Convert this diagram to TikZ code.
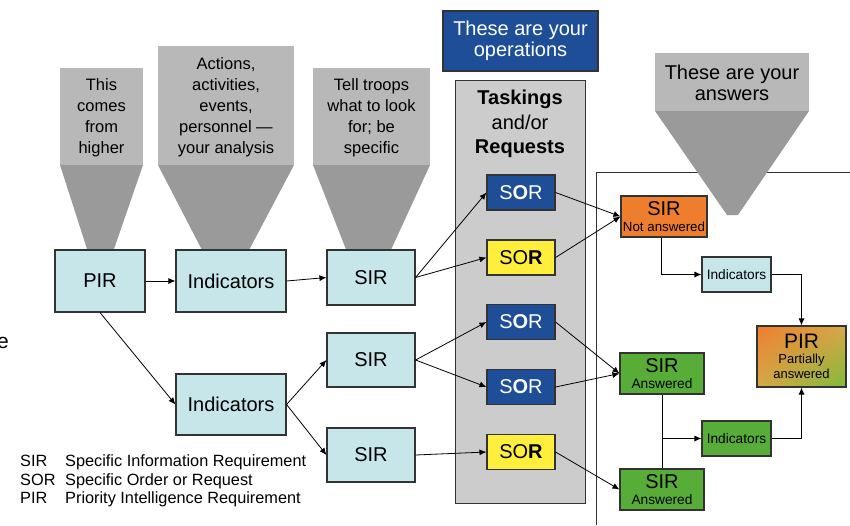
\documentclass[tikz,border=0pt]{standalone}
\usepackage{fontspec}
\setmainfont{Liberation Sans}
\usetikzlibrary{arrows.meta,calc,shadings}
\definecolor{cyanbox}{HTML}{C6E6EA}
\definecolor{bluebox}{HTML}{1F4E99}
\definecolor{yellowbox}{HTML}{FFEF3C}
\definecolor{orangebox}{HTML}{EE7E2E}
\definecolor{greenbox}{HTML}{57AD38}
\definecolor{panelgray}{HTML}{CCCCCC}
\definecolor{funneltop}{HTML}{B8B8B8}
\definecolor{funnelbot}{HTML}{9A9A9A}
\definecolor{boxline}{HTML}{333333}
\definecolor{mixc}{HTML}{D8A94A}
\definecolor{pagreen}{HTML}{7DBB3A}
\begin{document}
\begin{tikzpicture}[x=1pt,y=-1pt,
  box/.style={draw=boxline, line width=1.1pt, inner sep=0pt, align=center},
  cyanb/.style={box, fill=cyanbox, font=\fontsize{20}{24}\selectfont},
  sorblue/.style={box, fill=bluebox, text=white, minimum width=68pt, minimum height=35pt, font=\fontsize{20}{22}\selectfont},
  soryellow/.style={box, fill=yellowbox, minimum width=68pt, minimum height=35pt, font=\fontsize{20}{22}\selectfont},
  funtext/.style={align=center, inner sep=0pt, font=\fontsize{16.5}{21}\selectfont},
  conn/.style={line width=0.8pt, draw=black},
  arr/.style={conn, -{Latex[length=7pt,width=6pt]}},
  legend/.style={anchor=base west, inner sep=0pt, font=\fontsize{16.3}{18}\selectfont},
  ]
\useasboundingbox (0,0) rectangle (850,525);

% right frame
\draw[line width=0.9pt, draw=boxline] (596,525) -- (596,172) -- (850,172);

% funnels
\fill[funneltop] (60,68) rectangle (143,165);
\fill[funnelbot] (60,165) -- (143,165) -- (113,252) -- (88,252) -- cycle;
\node[funtext] (f1) at (101.5,118) {This\\comes\\from\\higher};
\fill[funneltop] (158,46) rectangle (294,165);
\fill[funnelbot] (158,165) -- (294,165) -- (248,252) -- (203,252) -- cycle;
\node[funtext] (f2) at (226,107.5) {Actions,\\activities,\\events,\\personnel —\\your analysis};
\fill[funneltop] (313,68) rectangle (430,165);
\fill[funnelbot] (313,165) -- (430,165) -- (390,252) -- (347,252) -- cycle;
\node[funtext] (f3) at (371.5,118) {Tell troops\\what to look\\for; be\\specific};
\fill[funneltop] (655,53) rectangle (809,111);
\fill[funnelbot] (655,111) -- (809,111) -- (738,215) -- (727,215) -- cycle;
\node[funtext, font=\fontsize{20}{21}\selectfont] (f4) at (732,83) {These are your\\answers};

% operations header
\node[box, fill=bluebox, text=white, minimum width=155pt, minimum height=60pt, font=\fontsize{20}{21}\selectfont] (ops) at (520.5,41) {These are your\\operations};

% panel
\node[draw=boxline, line width=0.9pt, fill=panelgray, minimum width=130pt, minimum height=423pt, inner sep=0pt] (panel) at (520,291.5) {};
\node[align=center, inner sep=0pt, font=\fontsize{20}{24.5}\selectfont] (task) at (520,124) {\textbf{Taskings}\\and/or\\\textbf{Requests}};

% left boxes
\node[cyanb, minimum width=90pt, minimum height=62pt] (pir) at (100,281) {PIR};
\node[cyanb, minimum width=110pt, minimum height=62pt] (ind1) at (231,281) {Indicators};
\node[cyanb, minimum width=88pt, minimum height=55pt] (sir1) at (371,277.5) {SIR};
\node[cyanb, minimum width=88pt, minimum height=54pt] (sir2) at (371,360) {SIR};
\node[cyanb, minimum width=110pt, minimum height=61pt] (ind2) at (231,404.5) {Indicators};
\node[cyanb, minimum width=88pt, minimum height=54pt] (sir3) at (371,455) {SIR};

% SOR boxes
\node[sorblue] (sorb1) at (521,192.5) {S\textbf{O}R};
\node[soryellow] (sory1) at (521,257.5) {SO\textbf{R}};
\node[sorblue] (sorb2) at (521,322) {S\textbf{O}R};
\node[sorblue] (sorb3) at (521,387) {S\textbf{O}R};
\node[soryellow] (sory2) at (521,452) {SO\textbf{R}};

% right boxes
\node[box, fill=orangebox, minimum width=86pt, minimum height=41pt, font=\fontsize{20}{15.5}\selectfont] (sirna) at (664,216.5)
  {SIR\\{\fontsize{13.3}{14}\selectfont Not answered}};
\node[box, fill=cyanbox, minimum width=69pt, minimum height=35pt, font=\fontsize{13.7}{15}\selectfont] (inds) at (736.5,274.5) {Indicators};
\node[box, upper left=orangebox, lower right=pagreen, upper right=mixc, lower left=mixc, minimum width=89pt, minimum height=61pt, font=\fontsize{21}{15}\selectfont] (pirpa) at (801.5,356.5)
  {PIR\\{\fontsize{13}{14}\selectfont Partially}\\{\fontsize{13}{14}\selectfont answered}};
\node[box, fill=greenbox, minimum width=84pt, minimum height=41pt, font=\fontsize{20}{16.5}\selectfont] (sira1) at (662,373.5)
  {SIR\\{\fontsize{13.7}{14}\selectfont Answered}};
\node[box, fill=greenbox, minimum width=69pt, minimum height=35pt, font=\fontsize{13.7}{15}\selectfont] (indg) at (736.5,438.5) {Indicators};
\node[box, fill=greenbox, minimum width=84pt, minimum height=41pt, font=\fontsize{20}{16.5}\selectfont] (sira2) at (662,489.5)
  {SIR\\{\fontsize{13.7}{14}\selectfont Answered}};

% connectors left
\draw[arr] (pir.east) -- (ind1.west);
\draw[arr] (ind1.east) -- (sir1.west);
\draw[arr] (pir.south) -- (ind2.west);
\draw[arr] (ind2.east) -- (sir2.west);
\draw[arr] (ind2.east) -- (sir3.west);
\draw[arr] (sir1.east) -- (sorb1.west);
\draw[arr] (sir1.east) -- (sory1.west);
\draw[arr] (sir2.east) -- (sorb2.west);
\draw[arr] (sir2.east) -- (sorb3.west);
\draw[arr] (sir3.east) -- (sory2.west);
% connectors right
\draw[arr] (sorb1.east) -- (sirna.west);
\draw[arr] (sory1.east) -- (sirna.west);
\draw[arr] (sorb2.east) -- (sira1.west);
\draw[arr] (sorb3.east) -- (sira1.west);
\draw[arr] (sory2.east) -- (sira2.west);
\draw[arr] ($(sirna.south)+(-3,0)$) |- (inds.west);
\draw[arr] (inds.east) -| (pirpa.north);
\draw[conn] (sira1.south) -- (sira2.north);
\coordinate (br) at (sira1.south |- indg.west);
\draw[arr] (br) -- (indg.west);
\draw[arr] (indg.east) -| (pirpa.south);

% legend
\node[legend] (l1a) at (20,466.5) {SIR};
\node[legend] (l1b) at (65,466.5) {Specific Information Requirement};
\node[legend] (l2a) at (20,485) {SOR};
\node[legend] (l2b) at (65,485) {Specific Order or Request};
\node[legend] (l3a) at (20,503.5) {PIR};
\node[legend] (l3b) at (65,503.5) {Priority Intelligence Requirement};

% clipped letter at left edge
\node[anchor=base east, inner sep=0pt, font=\fontsize{21}{24}\selectfont] (ecut) at (9,348) {e};
\end{tikzpicture}
\end{document}
